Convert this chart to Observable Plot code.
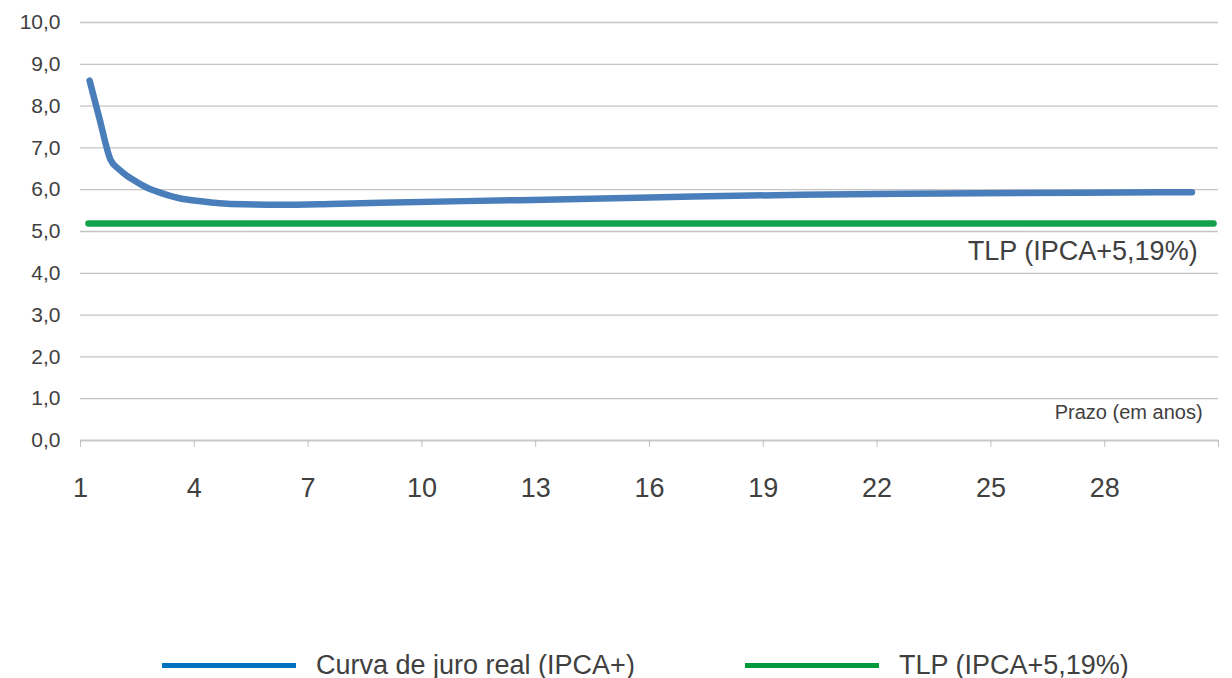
<!DOCTYPE html>
<html>
<head>
<meta charset="utf-8">
<script src="https://cdn.jsdelivr.net/npm/d3@7"></script>
<script src="https://cdn.jsdelivr.net/npm/@observablehq/plot@0.6"></script>
<style>
  body { margin: 0; background: #fff; font-family: "Liberation Sans", Arial, sans-serif; }
  #wrap { position: relative; width: 1232px; height: 678px; overflow: hidden; }
  .leg { position: absolute; top: 646px; height: 38px; display: flex; align-items: center; font-size: 27px; color: #404040; white-space: nowrap; }
  .sw { width: 134px; height: 5px; margin-right: 20px; }
</style>
</head>
<body>
<div id="wrap"></div>
<script>
// Prazo (anos) e taxa real (% a.a.) da curva de juro real IPCA+
const prazo = [1.24, 1.5, 1.79, 2.0, 2.2, 2.4, 2.6, 2.77, 3.0, 3.3, 3.64, 4.0, 4.5, 4.95, 6.27, 7.59, 8.91, 12.6, 16.3, 20.0, 23.7, 27.4, 30.3];
const curva = [8.61, 7.70, 6.72, 6.50, 6.35, 6.23, 6.12, 6.04, 5.96, 5.87, 5.79, 5.74, 5.69, 5.66, 5.64, 5.66, 5.69, 5.75, 5.82, 5.88, 5.91, 5.93, 5.94];
// TLP
const tlpPrazo = [1.21, 30.87];
const tlpTaxa = [5.19, 5.19];
// Eixos
const yTicks = [0, 1, 2, 3, 4, 5, 6, 7, 8, 9, 10];
const xTicks = [1, 4, 7, 10, 13, 16, 19, 22, 25, 28, 31];
const xLabels = [1, 4, 7, 10, 13, 16, 19, 22, 25, 28];
const serieNomes = ["Curva de juro real (IPCA+)", "TLP (IPCA+5,19%)"];
const serieCores = ["#0070C0", "#009A3D"];

const curvaData = prazo.map((p, i) => ({prazo: p, taxa: curva[i]}));
const tlpData = tlpPrazo.map((p, i) => ({prazo: p, taxa: tlpTaxa[i]}));

const fmt = d => d.toFixed(1).replace(".", ",");

const chart = Plot.plot({
  width: 1232,
  height: 640,
  marginLeft: 80,
  marginRight: 14,
  marginTop: 22,
  marginBottom: 200,
  style: {fontFamily: "'Liberation Sans', Arial, sans-serif", background: "#fff", color: "#404040"},
  x: {type: "linear", domain: [1, 31]},
  y: {domain: [0, 10]},
  marks: [
    Plot.ruleY(yTicks.filter(d => d > 0), {y: d => d, stroke: "#c4c4c4", strokeWidth: 1.3}),
    Plot.ruleY([0], {stroke: "#c8c8c8", strokeWidth: 2}),
    Plot.axisY({ticks: yTicks, tickSize: 0, tickPadding: 20, tickFormat: fmt, fontSize: 21, fill: "#404040", label: null}),
    Plot.axisX({ticks: xTicks, tickSize: 7, tickPadding: 30, stroke: "#c0c0c0",
      tickFormat: d => xLabels.includes(d) ? String(d) : "", fontSize: 27, fill: "#404040", label: null}),
    Plot.line(tlpData, {x: "prazo", y: "taxa", stroke: "#12A14B", strokeWidth: 6.5, strokeLinecap: "round"}),
    Plot.line(curvaData, {x: "prazo", y: "taxa", stroke: "#4A7EBB", strokeWidth: 6.5, strokeLinecap: "round", strokeLinejoin: "round", curve: "monotone-x"}),
    Plot.text([serieNomes[1]], {x: 30.45, y: 4.52, text: d => d, textAnchor: "end", lineAnchor: "middle", fontSize: 27, fill: "#404040"}),
    Plot.text(["Prazo (em anos)"], {x: 30.58, y: 0.66, text: d => d, textAnchor: "end", lineAnchor: "middle", fontSize: 20, fill: "#404040"})
  ]
});

const wrap = document.getElementById("wrap");
wrap.appendChild(chart);

const legPos = [162, 745];
serieNomes.forEach((nome, i) => {
  const item = document.createElement("div");
  item.className = "leg";
  item.style.left = legPos[i] + "px";
  const sw = document.createElement("div");
  sw.className = "sw";
  sw.style.background = serieCores[i];
  const t = document.createElement("span");
  t.textContent = nome;
  item.appendChild(sw);
  item.appendChild(t);
  wrap.appendChild(item);
});
</script>
</body>
</html>
